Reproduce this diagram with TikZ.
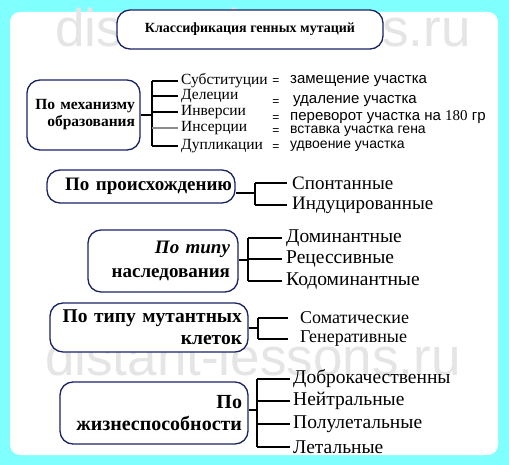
\documentclass[tikz,border=0pt]{standalone}
\usepackage{fontspec}
\setmainfont{Liberation Serif}
\setsansfont{Liberation Sans}
\usetikzlibrary{calc}
\definecolor{frameaqua}{RGB}{128,255,255}
\definecolor{boxnavy}{RGB}{25,35,100}
\tikzset{
  catbox/.style={draw=boxnavy, line width=1.3pt, rounded corners=13pt, fill=white, inner xsep=2pt, align=right},
  kind/.style={anchor=west, inner ysep=0pt},
  meaning/.style={anchor=west, inner sep=0pt, font=\sffamily\fontsize{15}{17}\selectfont},
  small meaning/.style={meaning, font=\sffamily\fontsize{14}{16}\selectfont},
  eqsign/.style={inner sep=0pt, font=\sffamily\fontsize{12}{14}\selectfont},
  wmark/.style={anchor=base west, inner sep=0pt, text=black!10, font=\sffamily\fontsize{53}{60}\selectfont},
  brace/.style={line width=1.1pt}
}
\begin{document}
\begin{tikzpicture}[x=1pt,y=-1pt]
  \useasboundingbox (0,0) rectangle (509,465);
  \fill[frameaqua] (0,0) rectangle (509,465);
  \fill[white, rounded corners=10pt] (10,12) rectangle (498,455);
  \node[wmark] (wmtop) at (55,47) {distant-lessons.ru};
  \node[wmark] (wmbot) at (45,375) {distant-lessons.ru};

  % title
  \node[catbox, align=center, minimum width=266, minimum height=39,
        font=\bfseries\fontsize{14}{16}\selectfont] (title) at (250,29.5) {Классификация генных мутаций};

  % mechanism
  \node[catbox, minimum width=113, minimum height=70, text width=103,
        font=\bfseries\fontsize{15.5}{17}\selectfont] (mech) at (83.5,115) {По механизму\\образования};
  \coordinate (mechbrk) at (152,115);
  \begin{scope}[kind, inner xsep=3pt, font=\fontsize{15.5}{18}\selectfont]
    \node (sub) at (178,81) {Субституции};
    \node (del) at (178,96) {Делеции};
    \node (inv) at (178,112) {Инверсии};
    \node (ins) at (178,128) {Инсерции};
    \node (dup) at (178,146) {Дупликации};
  \end{scope}
  \draw[brace] (mech.east) -- (mechbrk);
  \draw[brace] (mechbrk |- sub.west) -- (mechbrk |- dup.west);
  \foreach \nm in {sub,del,inv,dup}
    \draw[brace] (mechbrk |- \nm.west) -- (\nm.west);
  \draw[brace, black!45] (mechbrk |- ins.west) -- (ins.west);
  \node[eqsign] (esub) at (276,82) {=};
  \node[eqsign] (edel) at (276,103) {=};
  \node[eqsign] (einv) at (276,119) {=};
  \node[eqsign] (eins) at (276,132) {=};
  \node[eqsign] (edup) at (276,148) {=};
  \node[meaning] (msub) at (290,81) {замещение участка};
  \node[meaning] (mdel) at (293,101) {удаление участка};
  \node[meaning] (minv) at (290,117) {переворот участка на {\rmfamily 180} гр};
  \node[small meaning] (mins) at (290,131) {вставка участка гена};
  \node[small meaning] (mdup) at (290,146) {удвоение участка};

  % origin
  \node[catbox, minimum width=188, minimum height=33, text width=182,
        font=\bfseries\fontsize{19}{22}\selectfont] (orig) at (141,186.5) {По происхождению};
  \coordinate (origbrk) at (255,193);
  \begin{scope}[kind, inner xsep=5pt, font=\fontsize{19}{22}\selectfont]
    \node (spon) at (287,183) {Спонтанные};
    \node (indu) at (287,205) {Индуцированные};
  \end{scope}
  \draw[brace] (orig.east |- origbrk) -- (origbrk);
  \draw[brace] (origbrk |- spon.west) -- (origbrk |- indu.west);
  \foreach \nm in {spon,indu}
    \draw[brace] (origbrk |- \nm.west) -- (\nm.west);

  % heredity
  \node[catbox, minimum width=150, minimum height=62, text width=134,
        font=\bfseries\fontsize{19}{24}\selectfont] (here) at (163,261) {\textit{По типу}\\наследования};
  \coordinate (herebrk) at (248,260);
  \begin{scope}[kind, inner xsep=4pt, font=\fontsize{19.5}{22}\selectfont]
    \node (domi) at (282,238) {Доминантные};
    \node (rece) at (282,259) {Рецессивные};
    \node (codo) at (282,281) {Кодоминантные};
  \end{scope}
  \draw[brace] (here.east |- herebrk) -- (herebrk);
  \draw[brace] (herebrk |- domi.west) -- (herebrk |- codo.west);
  \foreach \nm in {domi,rece,codo}
    \draw[brace] (herebrk |- \nm.west) -- (\nm.west);

  % cells
  \node[catbox, minimum width=198, minimum height=49, text width=186,
        font=\bfseries\fontsize{19.5}{22}\selectfont] (cell) at (149,327.5) {По типу мутантных\\клеток};
  \coordinate (cellbrk) at (258,328);
  \begin{scope}[kind, inner xsep=12pt, font=\fontsize{18}{21}\selectfont]
    \node (soma) at (288,318) {Соматические};
    \node (gene) at (288,339) {Генеративные};
  \end{scope}
  \draw[brace] (cell.east |- cellbrk) -- (cellbrk);
  \draw[brace] (cellbrk |- soma.west) -- (cellbrk |- gene.west);
  \foreach \nm in {soma,gene}
    \draw[brace] (cellbrk |- \nm.west) -- (\nm.west);

  % viability
  \node[catbox, minimum width=188, minimum height=62, text width=176,
        font=\bfseries\fontsize{20}{22}\selectfont] (viab) at (154,413) {По\\жизнеспособности};
  \coordinate (viabbrk) at (257,410);
  \begin{scope}[kind, inner xsep=3pt, font=\fontsize{19.5}{22}\selectfont]
    \node (good) at (290,379) {Доброкачественны};
    \node (neut) at (290,401) {Нейтральные};
    \node (semi) at (290,424) {Полулетальные};
    \node (leth) at (290,447) {Летальные};
  \end{scope}
  \draw[brace] (viab.east |- viabbrk) -- (viabbrk);
  \draw[brace] (viabbrk |- good.west) -- (viabbrk |- leth.west);
  \foreach \nm in {good,neut,semi,leth}
    \draw[brace] (viabbrk |- \nm.west) -- (\nm.west);
\end{tikzpicture}
\end{document}
